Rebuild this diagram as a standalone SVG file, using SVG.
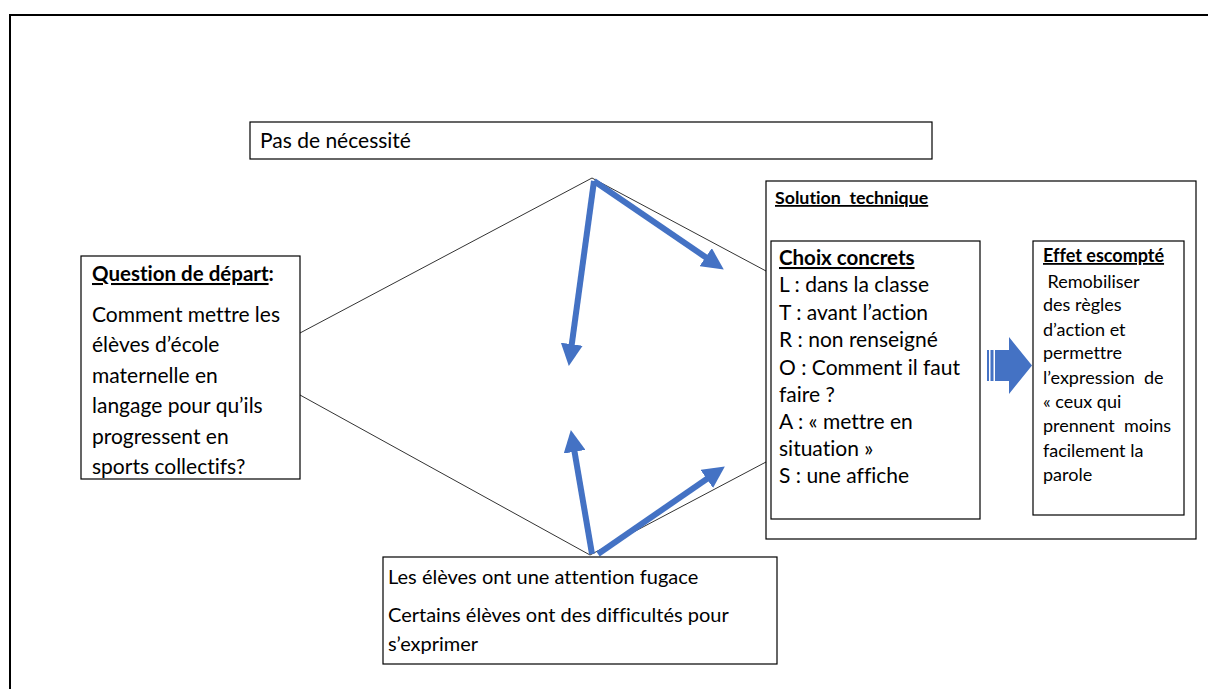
<svg xmlns="http://www.w3.org/2000/svg" width="1208" height="689" viewBox="0 0 1208 689">
<defs>
<style>
.box{fill:#fff;stroke:#000;stroke-width:1.2}
.t{font-family:Lato,"Liberation Sans",sans-serif;fill:#000;font-variant-ligatures:none}
.b{font-weight:bold;text-decoration:underline}
.thin{stroke:#333;stroke-width:1;fill:none}
.blue{stroke:#4472C4;stroke-width:6;fill:none;marker-end:url(#ah)}
</style>
<marker id="ah" markerUnits="userSpaceOnUse" markerWidth="22" markerHeight="22" refX="10" refY="10" orient="auto" viewBox="0 0 20 20">
<path d="M0,0 L20,10 L0,20 z" fill="#4472C4"/>
</marker>
</defs>
<rect x="0" y="0" width="1208" height="689" fill="#fff"/>
<rect x="10" y="15" width="1220" height="700" fill="none" stroke="#000" stroke-width="2"/>

<g id="connectors">
<polyline class="thin" points="300,333 592,178 766,271"/>
<polyline class="thin" points="300,395 590,555 766,462"/>
<line class="blue" x1="594" y1="181" x2="714.7" y2="263.4"/>
<line class="blue" x1="594" y1="181" x2="570.3" y2="355.1"/>
<line class="blue" x1="592" y1="554" x2="572.7" y2="440.9"/>
<line class="blue" x1="598" y1="554" x2="715.8" y2="472.7"/>
</g>

<g id="pas">
<rect class="box" x="250" y="122" width="682" height="37"/>
<text class="t" x="260" y="148" font-size="21">Pas de nécessité</text>
</g>

<g id="question">
<rect class="box" x="81" y="256" width="219" height="223"/>
<text class="t" font-size="20.5" x="92" y="281"><tspan class="b">Question de départ</tspan><tspan font-weight="bold">:</tspan></text>
<text class="t" font-size="21">
<tspan x="92" y="322">Comment mettre les</tspan>
<tspan x="92" y="352">élèves d’école</tspan>
<tspan x="92" y="383">maternelle en</tspan>
<tspan x="92" y="413">langage pour qu’ils</tspan>
<tspan x="92" y="444">progressent en</tspan>
<tspan x="92" y="474">sports collectifs?</tspan>
</text>
</g>

<g id="solution">
<rect class="box" x="766" y="181" width="430" height="358"/>
<text class="t b" font-size="17.8" x="775" y="204" xml:space="preserve">Solution  technique</text>
</g>

<g id="choix">
<rect class="box" x="771" y="241" width="209" height="278"/>
<text class="t b" font-size="20.5" x="779" y="265">Choix concrets</text>
<text class="t" font-size="21">
<tspan x="779" y="292">L : dans la classe</tspan>
<tspan x="779" y="320">T : avant l’action</tspan>
<tspan x="779" y="347">R : non renseigné</tspan>
<tspan x="779" y="375">O : Comment il faut</tspan>
<tspan x="779" y="402">faire ?</tspan>
<tspan x="779" y="429">A : « mettre en</tspan>
<tspan x="779" y="456">situation »</tspan>
<tspan x="779" y="483">S : une affiche</tspan>
</text>
</g>

<g id="fleche">
<rect x="987" y="350" width="2" height="31" fill="#4472C4"/>
<rect x="990.5" y="350" width="3" height="31" fill="#4472C4"/>
<path d="M995,350 L1009,350 L1009,337 L1032,365.5 L1009,394 L1009,381 L995,381 z" fill="#4472C4"/>
</g>

<g id="effet">
<rect class="box" x="1033" y="241" width="151" height="274"/>
<text class="t b" font-size="18" x="1043" y="262">Effet escompté</text>
<text class="t" font-size="18" xml:space="preserve">
<tspan x="1043" y="288"> Remobiliser</tspan>
<tspan x="1043" y="311">des règles</tspan>
<tspan x="1043" y="336">d’action et</tspan>
<tspan x="1043" y="359">permettre</tspan>
<tspan x="1043" y="384">l’expression  de</tspan>
<tspan x="1043" y="408">« ceux qui</tspan>
<tspan x="1043" y="432">prennent  moins</tspan>
<tspan x="1043" y="457">facilement la</tspan>
<tspan x="1043" y="481">parole</tspan>
</text>
</g>

<g id="difficultes">
<rect class="box" x="383" y="557" width="394" height="107"/>
<text class="t" font-size="20">
<tspan x="388" y="584">Les élèves ont une attention fugace</tspan>
<tspan x="388" y="622">Certains élèves ont des difficultés pour</tspan>
<tspan x="388" y="651">s’exprimer</tspan>
</text>
</g>
</svg>
